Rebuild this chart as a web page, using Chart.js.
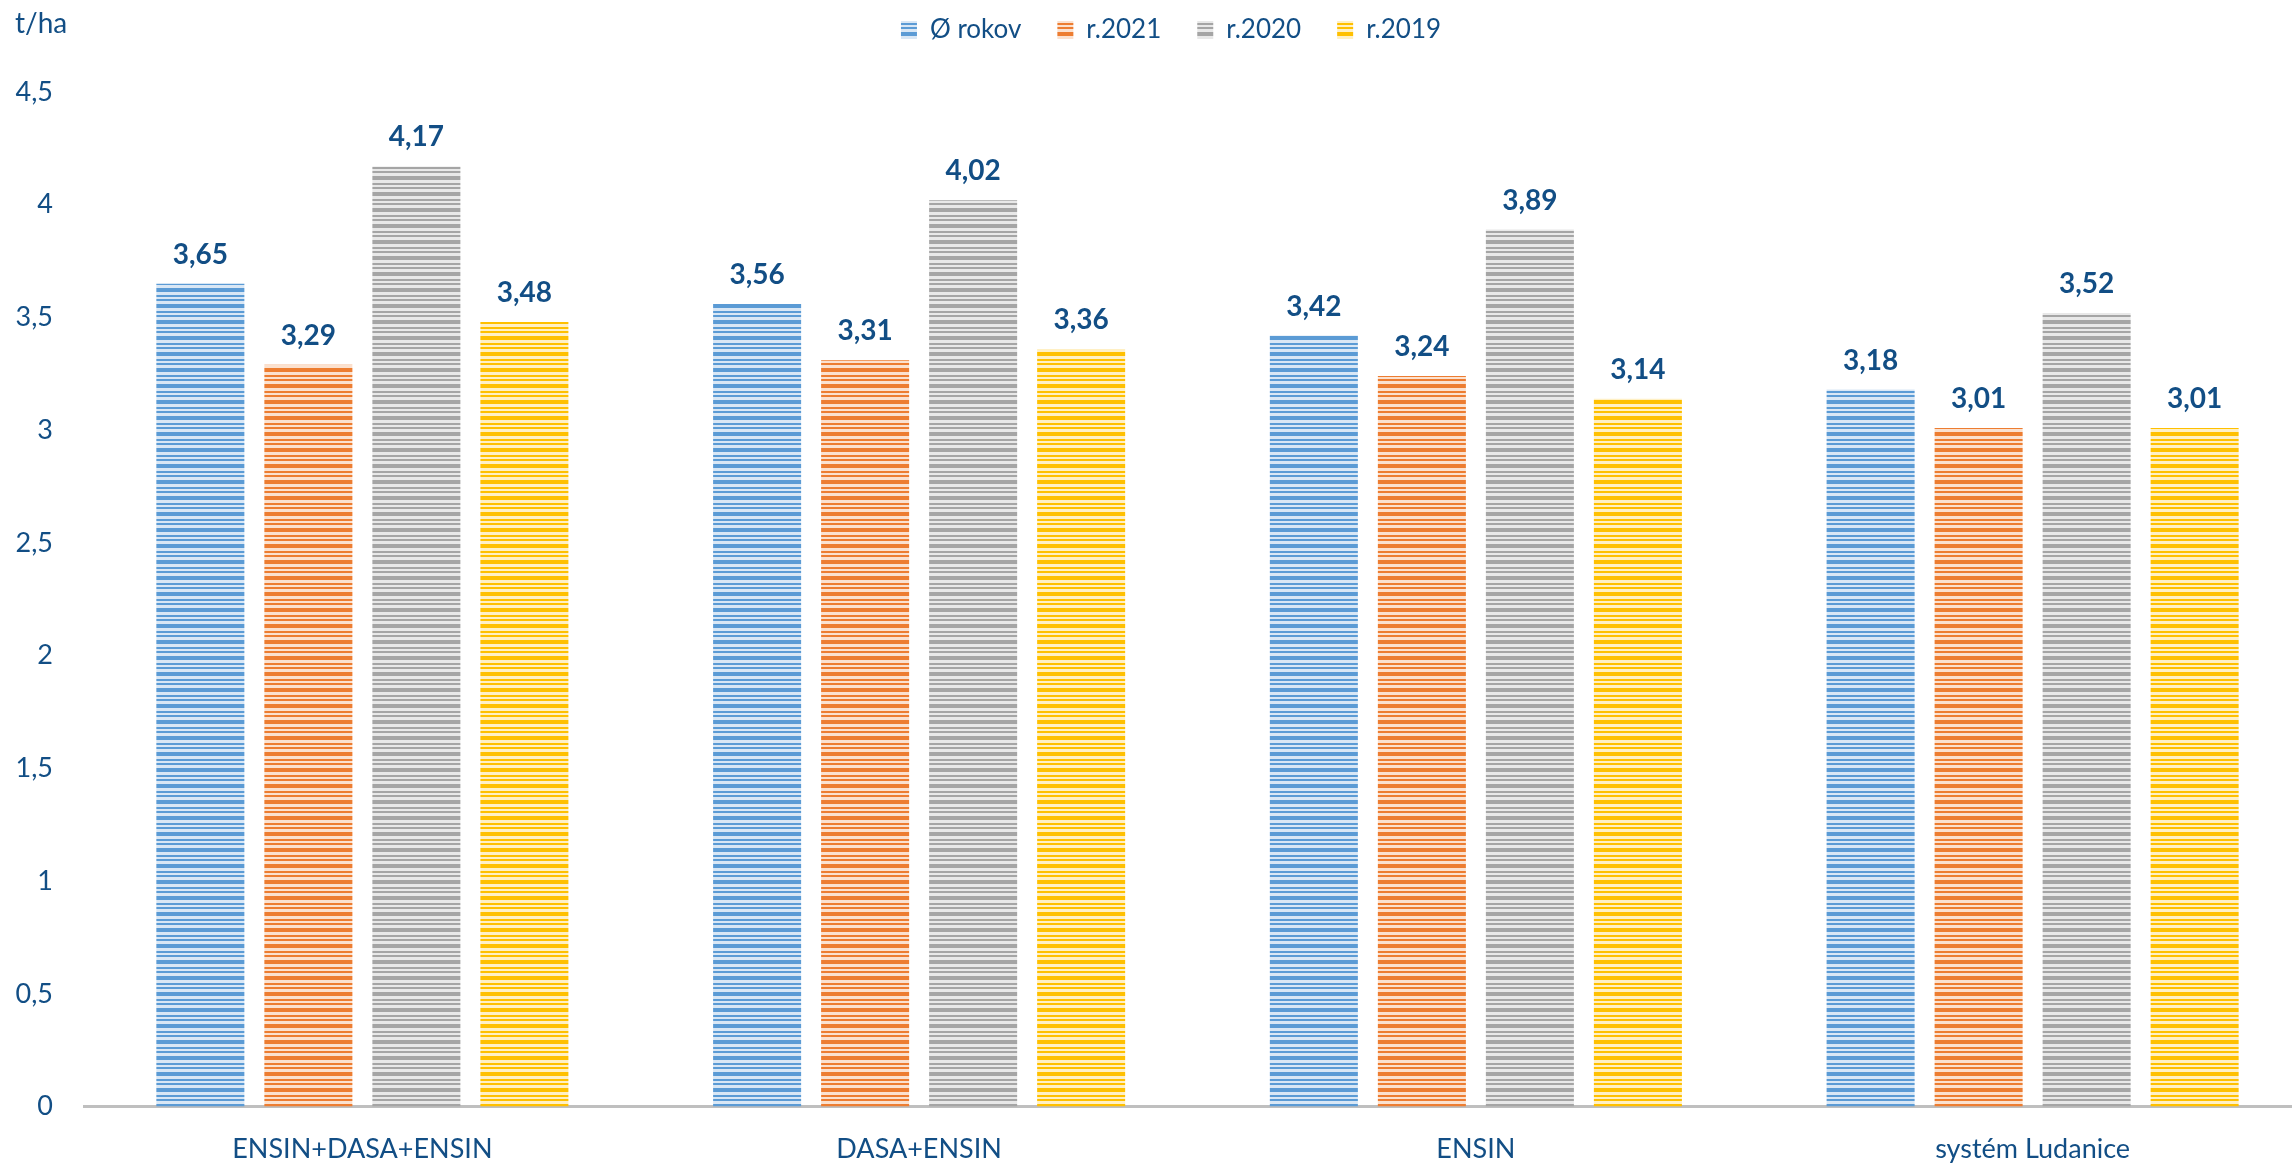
<!DOCTYPE html>
<html>
<head>
<meta charset="utf-8">
<script src="https://cdn.jsdelivr.net/npm/chart.js@4.4.0/dist/chart.umd.min.js"></script>
<style>
  html, body { margin: 0; padding: 0; background: #fff; overflow: hidden; }
  #wrap { width: 2311px; height: 1163px; }
</style>
</head>
<body>
<div id="wrap"><canvas id="barChart" width="2311" height="1163"></canvas></div>
<script>
// data
var kategorie = ['ENSIN+DASA+ENSIN', 'DASA+ENSIN', 'ENSIN', 'systém Ludanice'];
var priemer   = [3.65, 3.56, 3.42, 3.18];
var r2021     = [3.29, 3.31, 3.24, 3.01];
var r2020     = [4.17, 4.02, 3.89, 3.52];
var r2019     = [3.48, 3.36, 3.14, 3.01];
var osY       = [0, 0.5, 1, 1.5, 2, 2.5, 3, 3.5, 4, 4.5];

var modra = '#124e85';
var pismo = 'Lato, "Open Sans", sans-serif';

// striped fill like the excel pattern (period 16px)
function pruhy(farba, svetla) {
  var c = document.createElement('canvas');
  c.width = 4; c.height = 16;
  var g = c.getContext('2d');
  g.fillStyle = svetla;
  g.fillRect(0, 0, 4, 16);
  g.fillStyle = farba;
  g.fillRect(0, 0, 4, 4);   // hruby
  g.fillRect(0, 7, 4, 2);   // tenky
  g.fillRect(0, 11, 4, 2);  // tenky
  return g.createPattern(c, 'repeat');
}

// space between legend and plot
var odstup = {
  id: 'odstup',
  beforeInit: function(chart) {
    Chart.layouts.addBox(chart, {
      position: 'top',
      weight: 0,
      fullSize: true,
      options: {},
      isHorizontal: function() { return true; },
      update: function(maxWidth) { this.width = maxWidth; this.height = 39; },
      draw: function() {}
    });
  }
};

// value labels + unit
var hodnoty = {
  id: 'hodnoty',
  afterDatasetsDraw: function(chart) {
    var ctx = chart.ctx;
    ctx.save();
    ctx.font = 'bold 28px ' + pismo;
    ctx.fillStyle = modra;
    ctx.textAlign = 'center';
    ctx.textBaseline = 'middle';
    chart.data.datasets.forEach(function(ds, i) {
      chart.getDatasetMeta(i).data.forEach(function(bar, j) {
        ctx.fillText(ds.data[j].toFixed(2).replace('.', ','), bar.x, bar.y - 29);
      });
    });
    ctx.font = '28px ' + pismo;
    ctx.textAlign = 'left';
    ctx.fillText('t/ha', 15, 24);
    ctx.restore();
  }
};

var barChartCanvas = document.getElementById('barChart').getContext('2d');
var barChart = new Chart(barChartCanvas, {
  type: 'bar',
  data: {
    labels: kategorie,
    datasets: [
      { label: 'Ø rokov', data: priemer, backgroundColor: pruhy('#5b9bd5', '#d9e7f5') },
      { label: 'r.2021',  data: r2021,   backgroundColor: pruhy('#ed7d31', '#fbe1cf') },
      { label: 'r.2020',  data: r2020,   backgroundColor: pruhy('#a5a5a5', '#e8e8e8') },
      { label: 'r.2019',  data: r2019,   backgroundColor: pruhy('#ffc000', '#fff0c4') }
    ]
  },
  options: {
    responsive: false,
    animation: false,
    devicePixelRatio: 1,
    categoryPercentage: 0.776,
    barPercentage: 0.815,
    layout: { padding: { top: -19, left: 31, right: 0, bottom: -28 } },
    plugins: {
      tooltip: { enabled: false },
      legend: {
        position: 'top',
        labels: {
          boxWidth: 16,
          boxHeight: 18,
          padding: 36,
          color: modra,
          font: { family: pismo, size: 26 }
        }
      }
    },
    scales: {
      x: {
        grid: { display: false, drawTicks: false },
        border: { display: true, color: '#bfbfbf', width: 3 },
        ticks: { color: modra, padding: 26, font: { family: pismo, size: 27 } }
      },
      y: {
        min: 0,
        max: 4.5,
        grid: { display: false, drawTicks: false },
        border: { display: false },
        afterBuildTicks: function(scale) {
          scale.ticks = osY.map(function(v) { return { value: v }; });
        },
        afterFit: function(scale) {
          scale.width = 53;
          // labels stick out into the left padding, don't clip them
          scale._computeLabelArea = function() { return undefined; };
        },
        ticks: {
          color: modra,
          padding: 31,
          font: { family: pismo, size: 27 },
          callback: function(v) { return String(v).replace('.', ','); }
        }
      }
    }
  },
  plugins: [odstup, hodnoty]
});
</script>
</body>
</html>
